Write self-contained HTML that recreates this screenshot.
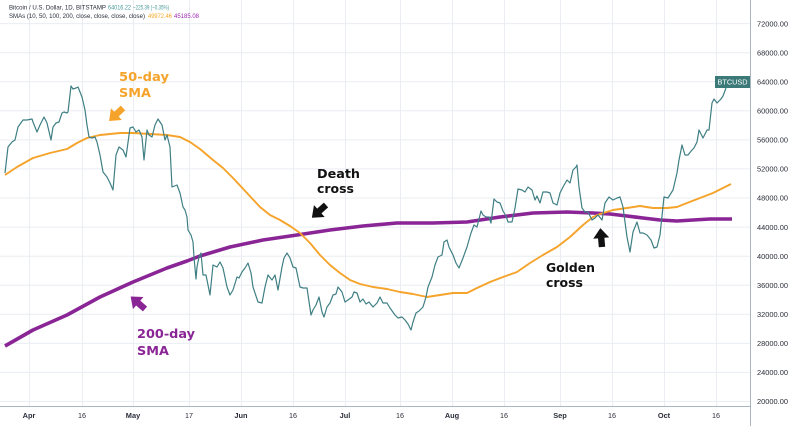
<!DOCTYPE html>
<html>
<head>
<meta charset="utf-8">
<style>
html,body{margin:0;padding:0;background:#fff;}
svg{display:block;}
.tk{font-family:"Liberation Sans",sans-serif;font-size:7.2px;fill:#2a2e39;}
.mo{font-family:"Liberation Sans",sans-serif;font-size:7.4px;font-weight:bold;fill:#2a2e39;}
.hd{font-family:"Liberation Sans",sans-serif;font-size:6.2px;fill:#2a2e39;}
.an{font-family:"DejaVu Sans","Liberation Sans",sans-serif;font-size:12.8px;font-weight:bold;}
</style>
</head>
<body>
<svg width="799" height="426" viewBox="0 0 799 426" xmlns="http://www.w3.org/2000/svg">
<rect width="799" height="426" fill="#fff"/>
<!-- horizontal grid -->
<g stroke="#eaeef2" stroke-width="1">
<line x1="0" y1="23.6" x2="751" y2="23.6"/>
<line x1="0" y1="52.7" x2="751" y2="52.7"/>
<line x1="0" y1="81.7" x2="751" y2="81.7"/>
<line x1="0" y1="110.8" x2="751" y2="110.8"/>
<line x1="0" y1="139.9" x2="751" y2="139.9"/>
<line x1="0" y1="168.9" x2="751" y2="168.9"/>
<line x1="0" y1="198" x2="751" y2="198"/>
<line x1="0" y1="227.1" x2="751" y2="227.1"/>
<line x1="0" y1="256.2" x2="751" y2="256.2"/>
<line x1="0" y1="285.2" x2="751" y2="285.2"/>
<line x1="0" y1="314.3" x2="751" y2="314.3"/>
<line x1="0" y1="343.4" x2="751" y2="343.4"/>
<line x1="0" y1="372.4" x2="751" y2="372.4"/>
<line x1="0" y1="401.5" x2="751" y2="401.5"/>
</g>
<!-- vertical grid -->
<g stroke="#eaeef2" stroke-width="1">
<line x1="29.5" y1="0" x2="29.5" y2="406"/>
<line x1="82.5" y1="0" x2="82.5" y2="406"/>
<line x1="133.5" y1="0" x2="133.5" y2="406"/>
<line x1="189.5" y1="0" x2="189.5" y2="406"/>
<line x1="241.5" y1="0" x2="241.5" y2="406"/>
<line x1="293.5" y1="0" x2="293.5" y2="406"/>
<line x1="345.5" y1="0" x2="345.5" y2="406"/>
<line x1="400.5" y1="0" x2="400.5" y2="406"/>
<line x1="452.5" y1="0" x2="452.5" y2="406"/>
<line x1="504.5" y1="0" x2="504.5" y2="406"/>
<line x1="560.5" y1="0" x2="560.5" y2="406"/>
<line x1="612.5" y1="0" x2="612.5" y2="406"/>
<line x1="664.5" y1="0" x2="664.5" y2="406"/>
<line x1="716.5" y1="0" x2="716.5" y2="406"/>
</g>
<!-- axes -->
<line x1="750.5" y1="0" x2="750.5" y2="426" stroke="#a9b6c1" stroke-width="1"/>
<line x1="0" y1="406.5" x2="751" y2="406.5" stroke="#a9b6c1" stroke-width="1"/>

<!-- price axis labels -->
<g class="tk">
<text x="757" y="26.3" textLength="31" lengthAdjust="spacingAndGlyphs">72000.00</text>
<text x="757" y="55.4" textLength="31" lengthAdjust="spacingAndGlyphs">68000.00</text>
<text x="757" y="84.4" textLength="31" lengthAdjust="spacingAndGlyphs">64000.00</text>
<text x="757" y="113.5" textLength="31" lengthAdjust="spacingAndGlyphs">60000.00</text>
<text x="757" y="142.6" textLength="31" lengthAdjust="spacingAndGlyphs">56000.00</text>
<text x="757" y="171.6" textLength="31" lengthAdjust="spacingAndGlyphs">52000.00</text>
<text x="757" y="200.7" textLength="31" lengthAdjust="spacingAndGlyphs">48000.00</text>
<text x="757" y="229.8" textLength="31" lengthAdjust="spacingAndGlyphs">44000.00</text>
<text x="757" y="258.9" textLength="31" lengthAdjust="spacingAndGlyphs">40000.00</text>
<text x="757" y="287.9" textLength="31" lengthAdjust="spacingAndGlyphs">36000.00</text>
<text x="757" y="317" textLength="31" lengthAdjust="spacingAndGlyphs">32000.00</text>
<text x="757" y="346.1" textLength="31" lengthAdjust="spacingAndGlyphs">28000.00</text>
<text x="757" y="375.1" textLength="31" lengthAdjust="spacingAndGlyphs">24000.00</text>
<text x="757" y="404.2" textLength="31" lengthAdjust="spacingAndGlyphs">20000.00</text>
</g>

<!-- date labels -->
<g text-anchor="middle">
<text class="mo" x="29" y="418">Apr</text>
<text class="tk" x="82" y="418">16</text>
<text class="mo" x="133" y="418">May</text>
<text class="tk" x="189" y="418">17</text>
<text class="mo" x="241" y="418">Jun</text>
<text class="tk" x="293" y="418">16</text>
<text class="mo" x="345" y="418">Jul</text>
<text class="tk" x="400" y="418">16</text>
<text class="mo" x="452" y="418">Aug</text>
<text class="tk" x="504" y="418">16</text>
<text class="mo" x="560" y="418">Sep</text>
<text class="tk" x="612" y="418">16</text>
<text class="mo" x="664" y="418">Oct</text>
<text class="tk" x="716" y="418">16</text>
</g>

<!-- header -->
<text class="hd" x="9" y="9.5" textLength="97" lengthAdjust="spacingAndGlyphs">Bitcoin / U.S. Dollar, 1D, BITSTAMP</text>
<text class="hd" x="108" y="9.5" textLength="23" lengthAdjust="spacingAndGlyphs" style="fill:#4a9a98">64016.22</text>
<text class="hd" x="133" y="9.5" textLength="36" lengthAdjust="spacingAndGlyphs" style="fill:#4a9a98">−225.39 (−0.35%)</text>
<text class="hd" x="9" y="18" textLength="136" lengthAdjust="spacingAndGlyphs">SMAs (10, 50, 100, 200, close, close, close, close)</text>
<text class="hd" x="148" y="18" textLength="24" lengthAdjust="spacingAndGlyphs" style="fill:#f5a623">49972.46</text>
<text class="hd" x="174" y="18" textLength="25" lengthAdjust="spacingAndGlyphs" style="fill:#9c27b0">45185.08</text>

<!-- 200-day SMA -->
<polyline fill="none" stroke="#8a2596" stroke-width="3.6" stroke-linejoin="round" stroke-linecap="butt"
points="5,346 33,330 67,315 100,297 133,282 167,268 187,261 200,256 230,247 263,240 297,235 330,230 363,226 397,223 433,223 467,222 500,217 533,213 567,212 593,213 610,214 627,216 643,218 660,220 677,221 693,220 710,219 732,219"/>

<!-- 50-day SMA -->
<polyline fill="none" stroke="#f5a32a" stroke-width="1.9" stroke-linejoin="round"
points="5,175 17,167 33,158 50,153 67,149 77,143 87,138 100,135 120,133 133,133 150,134 167,135 180,137 190,142 200,149 213,160 223,168 233,178 247,193 260,207 270,215 280,220 290,226 300,233 310,243 320,255 330,265 340,273 350,280 360,284 373,287 387,289 400,292 413,294 427,297 440,295 453,293 467,293 477,288 490,282 503,277 517,272 530,263 543,255 557,247 570,237 583,225 593,217 600,214 613,210 627,208 640,206 653,208 667,208 677,207 687,203 700,198 713,193 723,188 731,184"/>

<!-- price -->
<polyline fill="none" stroke="#3f7f84" stroke-width="1.2" stroke-linejoin="round"
points="5,173 8,147 12,142 15,140 18,127 23,120 27,120 32,119 33,122 37,132 40,125 44,117 47,123 51,140 53,127 56,123 59,122 62,113 64,112 67,113 68,112 71,86 73,89 76,88 78,87 82,97 85,110 87,125 89,137 92,138 95,137 97,142 100,155 103,172 107,177 110,183 113,190 116,155 119,147 123,150 126,157 130,128 133,127 136,132 139,130 142,137 144,160 147,130 149,135 152,137 155,125 158,119 162,125 165,140 167,135 170,147 172,187 177,185 180,193 183,207 185,210 187,217 188,230 191,235 193,242 194,257 196,279 197,267 199,257 201,253 203,275 206,275 210,295 213,265 217,267 220,262 223,268 227,287 230,295 233,290 237,277 239,278 242,272 245,268 248,263 251,273 253,287 258,302 262,303 265,287 268,275 272,280 275,275 278,290 282,267 284,258 287,253 290,258 293,267 296,268 300,287 303,288 307,288 311,315 313,310 316,305 319,297 322,312 324,317 327,307 330,303 333,295 336,294 338,287 342,292 345,302 348,300 352,297 354,292 357,293 360,302 363,299 366,304 369,302 373,307 377,303 380,297 383,303 387,303 390,308 395,315 398,318 402,317 405,320 408,324 411,330 413,322 416,313 419,311 423,307 426,297 428,287 432,277 435,265 438,257 442,255 444,242 447,240 449,247 453,255 456,263 459,268 463,258 467,247 471,233 474,225 477,227 481,211 483,215 486,217 489,217 491,223 494,199 497,202 500,203 503,211 506,216 508,222 512,222 515,208 518,189 522,190 525,192 528,187 532,190 535,200 537,196 540,203 543,192 547,192 550,193 553,203 557,205 560,193 563,187 567,180 570,183 573,170 576,167 577,165 579,187 582,208 585,212 588,212 592,220 595,218 598,215 602,220 605,203 609,197 613,200 617,198 620,197 623,207 627,237 630,252 633,232 637,222 640,233 643,233 647,235 651,240 654,248 657,247 660,235 664,197 668,198 673,190 677,173 679,160 682,145 685,155 688,155 692,150 694,148 697,142 699,130 703,138 707,130 709,130 712,103 714,99 717,103 721,99 723,96 726,88"/>

<!-- BTCUSD label -->
<rect x="715" y="76" width="35" height="12" fill="#3b7a78"/>
<text x="732.5" y="84.7" text-anchor="middle" style="font-family:'Liberation Sans',sans-serif;font-size:7px;fill:#fff" textLength="30" lengthAdjust="spacingAndGlyphs">BTCUSD</text>

<!-- arrows -->
<defs>
<path id="arr" d="M0,-3.2 L9,-3.2 L9,-8 L19,0 L9,8 L9,3.2 L0,3.2 Z"/>
</defs>
<use href="#arr" fill="#f5a32a" transform="translate(123,108) rotate(137)"/>
<use href="#arr" fill="#8a2596" transform="translate(145,309) rotate(221)"/>
<use href="#arr" fill="#111" transform="translate(326,205) rotate(138)"/>
<use href="#arr" fill="#111" transform="translate(602,247) rotate(-95)"/>

<!-- annotations -->
<text class="an" x="119" y="81" fill="#f5a32a" textLength="50" lengthAdjust="spacingAndGlyphs">50-day</text>
<text class="an" x="119" y="97" fill="#f5a32a">SMA</text>
<text class="an" x="137" y="338" fill="#8a2596" textLength="58" lengthAdjust="spacingAndGlyphs">200-day</text>
<text class="an" x="137" y="355" fill="#8a2596">SMA</text>
<text class="an" x="317" y="178" fill="#111" textLength="43" lengthAdjust="spacingAndGlyphs">Death</text>
<text class="an" x="317" y="193" fill="#111" textLength="37" lengthAdjust="spacingAndGlyphs">cross</text>
<text class="an" x="546" y="272" fill="#111" textLength="49" lengthAdjust="spacingAndGlyphs">Golden</text>
<text class="an" x="546" y="287" fill="#111" textLength="37" lengthAdjust="spacingAndGlyphs">cross</text>
</svg>
</body>
</html>
